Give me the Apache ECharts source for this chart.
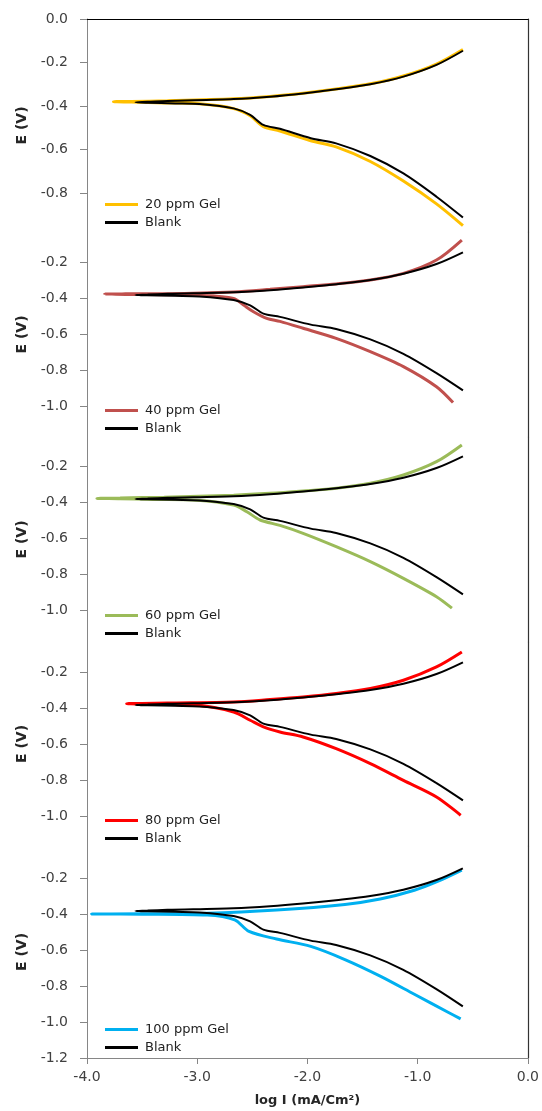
<!DOCTYPE html>
<html>
<head>
<meta charset="utf-8">
<script src="https://cdn.jsdelivr.net/npm/echarts@6/dist/echarts.min.js"></script>
<style>
  html, body { margin: 0; padding: 0; background: #fff; }
  #chart { width: 542px; height: 1111px; }
</style>
</head>
<body>
<div id="chart"></div>
<script>
// Tafel polarisation curves: each trace runs from the anodic end, through E_corr, to the cathodic end.
const xTicks = [-4, -3, -2, -1, 0];
const panelTicks = [
  [0, -0.2, -0.4, -0.6, -0.8],
  [-0.2, -0.4, -0.6, -0.8, -1.0],
  [-0.2, -0.4, -0.6, -0.8, -1.0],
  [-0.2, -0.4, -0.6, -0.8, -1.0],
  [-0.2, -0.4, -0.6, -0.8, -1.0, -1.2]
];

const gelNames = ['20 ppm Gel', '40 ppm Gel', '60 ppm Gel', '80 ppm Gel', '100 ppm Gel'];
const gelColors = ['#FFC000', '#C0504D', '#9BBB59', '#FF0000', '#00B0F0'];

const blankLogI = [-0.59, -0.83, -1.13, -1.43, -1.74, -2.04, -2.34, -2.67, -3.27, -3.45, -3.56, -3.45, -3.20, -2.98, -2.67, -2.52, -2.40, -2.25, -1.97, -1.74, -1.43, -1.13, -0.83, -0.59];
const blankE    = [-0.146, -0.211, -0.265, -0.300, -0.323, -0.342, -0.357, -0.368, -0.377, -0.381, -0.383, -0.385, -0.388, -0.391, -0.411, -0.441, -0.487, -0.505, -0.548, -0.572, -0.630, -0.710, -0.817, -0.913];

const gel20LogI = [-0.59, -0.83, -1.13, -1.43, -1.74, -2.04, -2.34, -2.67, -3.27, -3.60, -3.76, -3.60, -3.30, -2.98, -2.67, -2.52, -2.40, -2.25, -1.97, -1.74, -1.43, -1.13, -0.83, -0.59];
const gel20E    = [-0.140, -0.207, -0.262, -0.298, -0.322, -0.341, -0.356, -0.367, -0.376, -0.379, -0.380, -0.382, -0.386, -0.390, -0.412, -0.445, -0.495, -0.515, -0.560, -0.588, -0.655, -0.745, -0.850, -0.950];

const gel40LogI = [-0.60, -0.83, -1.13, -1.43, -1.74, -2.04, -2.34, -2.67, -3.28, -3.65, -3.84, -3.65, -3.30, -3.00, -2.67, -2.58, -2.49, -2.37, -2.25, -2.04, -1.74, -1.43, -1.13, -0.83, -0.68];
const gel40E    = [-0.078, -0.189, -0.263, -0.300, -0.322, -0.337, -0.352, -0.366, -0.376, -0.377, -0.378, -0.380, -0.382, -0.385, -0.402, -0.439, -0.476, -0.513, -0.530, -0.568, -0.624, -0.698, -0.781, -0.893, -0.981];

const gel60LogI = [-0.60, -0.83, -1.13, -1.43, -1.74, -2.04, -2.34, -2.67, -3.30, -3.70, -3.91, -3.70, -3.40, -3.00, -2.67, -2.55, -2.43, -2.25, -2.04, -1.74, -1.43, -1.13, -0.83, -0.69];
const gel60E    = [-0.083, -0.176, -0.250, -0.296, -0.324, -0.339, -0.352, -0.362, -0.373, -0.378, -0.380, -0.382, -0.386, -0.390, -0.417, -0.454, -0.500, -0.530, -0.574, -0.648, -0.731, -0.824, -0.926, -0.990];

const gel80LogI = [-0.60, -0.83, -1.13, -1.43, -1.74, -2.04, -2.34, -2.67, -3.27, -3.50, -3.64, -3.50, -3.25, -3.00, -2.67, -2.52, -2.40, -2.25, -2.04, -1.74, -1.43, -1.13, -0.83, -0.61];
const gel80E    = [-0.089, -0.172, -0.246, -0.292, -0.320, -0.339, -0.353, -0.366, -0.372, -0.375, -0.376, -0.378, -0.381, -0.385, -0.422, -0.468, -0.505, -0.533, -0.561, -0.626, -0.709, -0.802, -0.894, -0.996];

const gel100LogI = [-0.60, -0.83, -1.03, -1.34, -1.66, -2.28, -2.91, -3.50, -3.96, -3.50, -2.91, -2.66, -2.53, -2.28, -1.97, -1.66, -1.34, -1.03, -0.72, -0.61];
const gel100E    = [-0.156, -0.222, -0.268, -0.317, -0.347, -0.378, -0.396, -0.399, -0.400, -0.401, -0.406, -0.433, -0.497, -0.539, -0.580, -0.653, -0.745, -0.846, -0.947, -0.983];

const gelLogI = [gel20LogI, gel40LogI, gel60LogI, gel80LogI, gel100LogI];
const gelE = [gel20E, gel40E, gel60E, gel80E, gel100E];

// Panel frames in page pixels: visible band, where E = 0 sits, and pixels per volt.
const panelLayout = [
  { top: 19,  bottom: 232,  zeroY: 19,  pxPerV: 217.5, legendTop: 193 },
  { top: 232, bottom: 437,  zeroY: 226, pxPerV: 180,   legendTop: 399 },
  { top: 437, bottom: 642,  zeroY: 430, pxPerV: 180,   legendTop: 604 },
  { top: 642, bottom: 846,  zeroY: 636, pxPerV: 180,   legendTop: 809 },
  { top: 846, bottom: 1058, zeroY: 842, pxPerV: 180,   legendTop: 1018 }
];

const pairs = (xs, ys) => xs.map((x, i) => [x, ys[i]]);
const r6 = v => Math.round(v * 1e6) / 1e6;

const FONT = 'DejaVu Sans';
const AXIS_GRAY = '#868686';
const LEFT = 87, RIGHT = 14;

const grid = [], xAxis = [], yAxis = [], series = [], legend = [];

panelLayout.forEach((p, i) => {
  const last = i === panelLayout.length - 1;
  grid.push({ left: LEFT, right: RIGHT, top: p.top, height: p.bottom - p.top });

  const yMax = r6(-(p.top - p.zeroY) / p.pxPerV);
  const yMin = r6(-(p.bottom - p.zeroY) / p.pxPerV);

  xAxis.push({
    type: 'value', gridIndex: i, min: xTicks[0], max: xTicks[xTicks.length - 1], interval: 1,
    axisLine: { show: last, onZero: false, lineStyle: { color: AXIS_GRAY, width: 1 } },
    axisTick: { show: last, length: 6, lineStyle: { color: AXIS_GRAY } },
    axisLabel: { show: last, margin: 12, color: '#404040', fontFamily: FONT, fontSize: 14,
                 formatter: v => v.toFixed(1) },
    splitLine: { show: false },
    name: last ? 'log I (mA/Cm²)' : '',
    nameLocation: 'middle', nameGap: 36,
    nameTextStyle: { color: '#262626', fontFamily: FONT, fontWeight: 'bold', fontSize: 13 }
  });

  const ticks = panelTicks[i];
  yAxis.push({
    type: 'value', gridIndex: i, min: yMin, max: yMax, position: 'left',
    axisLine: { show: true, onZero: false, lineStyle: { color: AXIS_GRAY, width: 1 } },
    axisTick: { show: true, length: 7, customValues: ticks, lineStyle: { color: AXIS_GRAY } },
    axisLabel: { show: true, customValues: ticks, margin: 19, color: '#404040',
                 fontFamily: FONT, fontSize: 14, formatter: v => v.toFixed(1) },
    splitLine: { show: false },
    name: 'E (V)', nameLocation: 'middle', nameRotate: 90, nameGap: 58,
    nameTextStyle: { color: '#262626', fontFamily: 'Liberation Sans Narrow, ' + FONT,
                     fontWeight: 'bold', fontSize: 14 }
  });
  // right-hand frame edge
  yAxis.push({
    type: 'value', gridIndex: i, min: yMin, max: yMax, position: 'right',
    axisLine: { show: true, onZero: false, lineStyle: { color: '#333', width: 1.2 } },
    axisTick: { show: false }, axisLabel: { show: false }, splitLine: { show: false }
  });

  series.push({
    name: gelNames[i], type: 'line', xAxisIndex: i, yAxisIndex: 2 * i,
    data: pairs(gelLogI[i], gelE[i]),
    showSymbol: false, symbol: 'none', smooth: 0.3,
    lineStyle: { color: gelColors[i], width: 3 }, itemStyle: { color: gelColors[i] },
    z: 2
  });
  series.push({
    name: 'Blank', type: 'line', xAxisIndex: i, yAxisIndex: 2 * i,
    data: pairs(blankLogI, blankE),
    showSymbol: false, symbol: 'none', smooth: 0.3,
    lineStyle: { color: '#000', width: 2 }, itemStyle: { color: '#000' },
    z: 3
  });

  legend.push({
    left: 100, top: p.legendTop, orient: 'vertical', selectedMode: false,
    icon: 'rect', itemWidth: 33, itemHeight: 3, itemGap: 5,
    data: [gelNames[i], 'Blank'],
    textStyle: { color: '#222', fontFamily: FONT, fontSize: 13, padding: [0, 0, 0, 2] }
  });
});

// top frame edge of the first panel
xAxis.push({
  type: 'value', gridIndex: 0, position: 'top', min: xTicks[0], max: xTicks[xTicks.length - 1],
  axisLine: { show: true, onZero: false, lineStyle: { color: '#000', width: 1.2 } },
  axisTick: { show: false }, axisLabel: { show: false }, splitLine: { show: false }
});

const chart = echarts.init(document.getElementById('chart'), null, { renderer: 'canvas' });
chart.setOption({
  backgroundColor: '#fff',
  animation: false,
  grid, xAxis, yAxis, series, legend
});
</script>
</body>
</html>
